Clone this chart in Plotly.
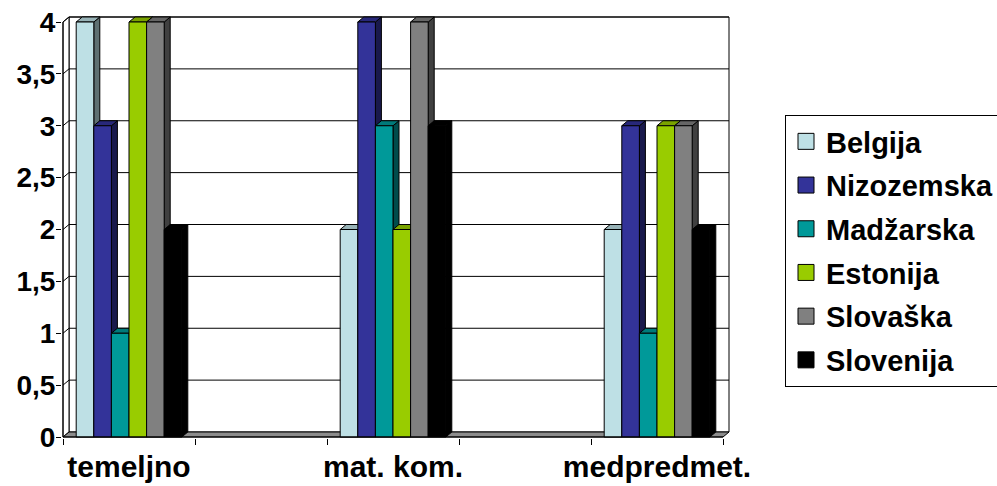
import plotly.graph_objects as go

# Categories (blank slots keep the wide spacing between the three groups)
categories = ["temeljno", "", "mat. kom.", "", "medpredmet."]
series_names = ["Belgija", "Nizozemska", "Madžarska", "Estonija", "Slovaška", "Slovenija"]
belgija = [4, None, 2, None, 2]
nizozemska = [3, None, 4, None, 3]
madzarska = [1, None, 3, None, 1]
estonija = [4, None, 2, None, 3]
slovaska = [4, None, 4, None, 3]
slovenija = [2, None, 3, None, 2]
y_ticks = [0, 0.5, 1, 1.5, 2, 2.5, 3, 3.5, 4]

series_values = [belgija, nizozemska, madzarska, estonija, slovaska, slovenija]
colors = ["#BEE0E5", "#333399", "#009999", "#99CC00", "#808080", "#000000"]

FONT = "Liberation Sans, Arial, sans-serif"

# pixel geometry of the pseudo-3D depth
CAT_PX = 132.0          # pixels per category slot
UNIT_PX = 103.75        # pixels per y unit
DX_PX, DY_PX = 6, 5     # depth offset
dxd = DX_PX / CAT_PX
dyd = DY_PX / UNIT_PX
n_cat = len(categories)
x_pos = list(range(n_cat))
y_max = max(y_ticks)

x_lo = -0.5 - 1 / CAT_PX
x_hi = n_cat - 0.5 + (DX_PX + 1) / CAT_PX
y_lo = -1 / UNIT_PX
y_hi = y_max + (DY_PX + 1) / UNIT_PX

plot_w = (x_hi - x_lo) * CAT_PX
plot_h = (y_hi - y_lo) * UNIT_PX
left_m = 62
bottom_m = 48
W, H = 997, 486


def shade(hex_color, f):
    h = hex_color.lstrip("#")
    r, g, b = (int(h[i:i + 2], 16) for i in (0, 2, 4))
    return "rgb({},{},{})".format(int(r * f), int(g * f), int(b * f))


def poly(pts):
    return "M " + " L ".join("{},{}".format(x, y) for x, y in pts) + " Z"


shapes = []
x0w, x1w = -0.5, n_cat - 0.5
# back wall
shapes.append(dict(type="rect", layer="below", x0=x0w + dxd, x1=x1w + dxd, y0=dyd, y1=y_max + dyd,
                   fillcolor="white", line=dict(color="black", width=1)))
# left side wall
shapes.append(dict(type="path", layer="below",
                   path=poly([(x0w, 0), (x0w + dxd, dyd), (x0w + dxd, y_max + dyd), (x0w, y_max)]),
                   fillcolor="white", line=dict(color="black", width=1)))
# floor
shapes.append(dict(type="path", layer="below",
                   path=poly([(x0w, 0), (x1w, 0), (x1w + dxd, dyd), (x0w + dxd, dyd)]),
                   fillcolor="#8C8C8C", line=dict(color="black", width=1)))
# gridlines on walls
for v in y_ticks[1:]:
    shapes.append(dict(type="line", layer="below", x0=x0w + dxd, x1=x1w + dxd, y0=v + dyd, y1=v + dyd,
                       line=dict(color="black", width=1)))
    shapes.append(dict(type="line", layer="below", x0=x0w, x1=x0w + dxd, y0=v, y1=v + dyd,
                       line=dict(color="black", width=1)))

# depth faces of each bar (side and top), built from the same values as the bars
group_w = 0.8
bar_w = group_w / len(series_values)
for i in x_pos:
    for j, vals in enumerate(series_values):
        v = vals[i]
        if v is None:
            continue
        xl = i - group_w / 2 + j * bar_w
        xr = xl + bar_w
        col = colors[j]
        shapes.append(dict(type="path", layer="below",
                           path=poly([(xr, 0), (xr + dxd, dyd), (xr + dxd, v + dyd), (xr, v)]),
                           fillcolor=shade(col, 0.5), line=dict(color="black", width=1)))
        shapes.append(dict(type="path", layer="below",
                           path=poly([(xl, v), (xl + dxd, v + dyd), (xr + dxd, v + dyd), (xr, v)]),
                           fillcolor=shade(col, 0.8), line=dict(color="black", width=1)))

# front axis lines
shapes.append(dict(type="line", x0=x0w, x1=x0w, y0=0, y1=y_max, line=dict(color="black", width=1)))
shapes.append(dict(type="line", x0=x0w, x1=x1w, y0=0, y1=0, line=dict(color="black", width=1)))

fig = go.Figure()
for name, vals, col in zip(series_names, series_values, colors):
    fig.add_trace(go.Bar(x=x_pos, y=vals, name=name, marker=dict(color=col, line=dict(color="black", width=1)),
                         showlegend=False, legendgroup=name))
# legend entries with larger square swatches
for name, col in zip(series_names, colors):
    fig.add_trace(go.Scatter(x=[None], y=[None], mode="markers", name=name, legendgroup=name,
                             marker=dict(symbol="square", size=16, color=col, line=dict(color="black", width=1))))

tick_text = [c for c in categories if c]
tick_vals = [i for i, c in enumerate(categories) if c]

fig.update_layout(
    width=W, height=H,
    margin=dict(l=left_m, r=W - left_m - plot_w, t=H - bottom_m - plot_h, b=bottom_m, pad=0),
    paper_bgcolor="white", plot_bgcolor="white",
    barmode="group", bargap=0.2, bargroupgap=0,
    separators=", ",
    font=dict(family=FONT, color="black", size=28, weight="bold"),
    shapes=shapes,
    showlegend=True,
    legend=dict(xref="container", yref="container", x=785 / W, y=1 - 115 / H, xanchor="left", yanchor="top",
                bgcolor="white", bordercolor="black", borderwidth=1, maxheight=400,
                font=dict(family=FONT, size=29, color="black", weight="bold"),
                traceorder="grouped", tracegroupgap=3, itemwidth=30),
    xaxis=dict(range=[x_lo, x_hi], tickmode="array", tickvals=tick_vals, ticktext=tick_text, automargin=False,
               ticks="outside", ticklen=2, tickcolor="rgba(0,0,0,0)", showgrid=False, zeroline=False,
               showline=False, tickfont=dict(size=30),
               minor=dict(tickmode="array", tickvals=[k - 0.5 for k in range(n_cat + 1)],
                          ticks="outside", ticklen=6, tickcolor="black", showgrid=False)),
    yaxis=dict(range=[y_lo, y_hi], tickmode="array", tickvals=y_ticks, ticks="outside", ticklen=5,
               automargin=False, ticklabelstandoff=-5,
               tickcolor="black", showgrid=False, zeroline=False, showline=False, tickfont=dict(size=28)),
)

fig.write_html("out.html")
